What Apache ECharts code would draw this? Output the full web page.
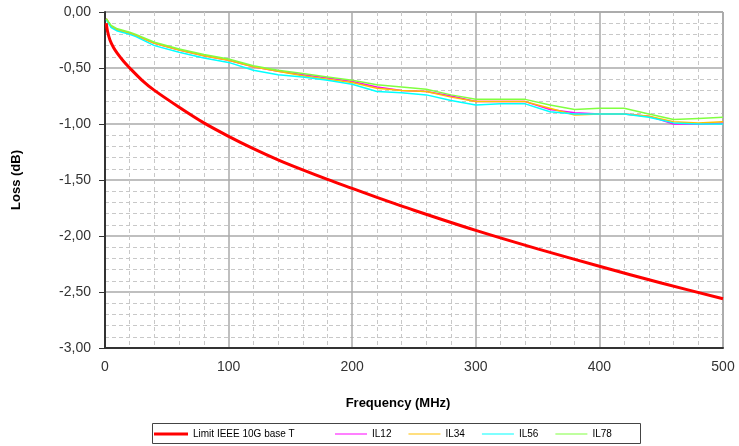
<!DOCTYPE html>
<html>
<head>
<meta charset="utf-8">
<script src="https://cdn.jsdelivr.net/npm/echarts@6/dist/echarts.min.js"></script>
<style>html,body{margin:0;padding:0;background:#fff}#c{width:739px;height:446px}</style>
</head>
<body>
<div id="c"></div>
<script>
var limitFreq = [1, 2, 4, 7, 10, 15, 20, 30, 40, 60, 80, 100, 120, 140, 160, 180, 200, 220, 250, 300, 350, 400, 450, 500];
var limitVals = [-0.10, -0.17, -0.25, -0.32, -0.37, -0.44, -0.50, -0.61, -0.70, -0.85, -0.99, -1.11, -1.22, -1.32, -1.41, -1.495, -1.575, -1.655, -1.77, -1.95, -2.115, -2.27, -2.42, -2.56];

var ilFreq = [1, 5, 10, 20, 25, 40, 60, 80, 100, 120, 140, 160, 180, 200, 220, 240, 260, 280, 300, 320, 340, 360, 380, 400, 420, 440, 460, 480, 500];
var il12 = [-0.06, -0.13, -0.16, -0.19, -0.21, -0.28, -0.34, -0.39, -0.43, -0.49, -0.53, -0.56, -0.59, -0.62, -0.67, -0.70, -0.71, -0.75, -0.80, -0.80, -0.80, -0.87, -0.90, -0.91, -0.91, -0.93, -1.00, -1.00, -0.99];
var il34 = [-0.06, -0.13, -0.16, -0.19, -0.21, -0.28, -0.34, -0.39, -0.43, -0.49, -0.53, -0.57, -0.60, -0.63, -0.68, -0.70, -0.71, -0.76, -0.80, -0.80, -0.80, -0.86, -0.92, -0.91, -0.91, -0.93, -0.98, -0.99, -0.98];
var il56 = [-0.07, -0.14, -0.17, -0.20, -0.22, -0.30, -0.36, -0.41, -0.45, -0.52, -0.56, -0.58, -0.61, -0.645, -0.71, -0.72, -0.74, -0.79, -0.83, -0.82, -0.82, -0.89, -0.91, -0.91, -0.91, -0.94, -0.99, -1.00, -1.00];
var il78 = [-0.06, -0.12, -0.15, -0.18, -0.20, -0.27, -0.33, -0.38, -0.42, -0.48, -0.52, -0.55, -0.58, -0.61, -0.65, -0.67, -0.69, -0.74, -0.78, -0.78, -0.78, -0.83, -0.87, -0.86, -0.86, -0.91, -0.96, -0.95, -0.94];

var seriesNames = ['Limit IEEE 10G base T', 'IL12', 'IL34', 'IL56', 'IL78'];
var xTicks = [0, 100, 200, 300, 400, 500];
var yTicks = [0, -0.5, -1, -1.5, -2, -2.5, -3];

function pairs(xs, ys) { return xs.map(function (x, i) { return [x, ys[i]]; }); }

var font = 'Liberation Sans, Arial, sans-serif';
var chart = echarts.init(document.getElementById('c'), null, {renderer: 'canvas'});
function mk(name, xs, ys, color, width, smooth) {
  return {
    name: name, type: 'line', data: pairs(xs, ys), symbol: 'none', smooth: smooth,
    lineStyle: {color: color, width: width}, itemStyle: {color: color}, animation: false
  };
}
var legendText = {fontFamily: font, fontSize: 10, color: '#000'};
chart.setOption({
  backgroundColor: '#fff',
  animation: false,
  title: {
    text: 'Frequency (MHz)', left: 393, top: 392, textAlign: 'center',
    textStyle: {fontFamily: font, fontSize: 13, fontWeight: 'bold', color: '#000'}
  },
  graphic: [{
    type: 'rect', left: 152, top: 423, z: 0,
    shape: {width: 488, height: 20},
    style: {fill: '#fff', stroke: '#444', lineWidth: 1}
  }],
  grid: {left: 105, right: 16, top: 12, bottom: 98, show: true, borderColor: '#666', borderWidth: 1, backgroundColor: '#fff'},
  legend: [{
    data: [seriesNames[0]], left: 150, top: 426, icon: 'rect',
    itemWidth: 34, itemHeight: 3, padding: [3, 4],
    textStyle: legendText
  }, {
    data: seriesNames.slice(1), left: 331, top: 426, icon: 'rect',
    itemWidth: 32, itemHeight: 1, itemGap: 17, padding: [3, 4],
    textStyle: legendText
  }],
  xAxis: {
    type: 'value', min: xTicks[0], max: xTicks[xTicks.length - 1], interval: 100,
    axisLine: {show: true, onZero: false, lineStyle: {color: '#333', width: 2}},
    axisTick: {show: false},
    axisLabel: {margin: 12, fontFamily: font, fontSize: 14, color: '#333'},
    splitLine: {show: true, lineStyle: {color: '#aaa', width: 1.5}},
    minorTick: {show: true, splitNumber: 5, length: 0},
    minorSplitLine: {show: true, lineStyle: {color: '#c8c8c8', width: 1, type: [4, 3]}}
  },
  yAxis: {
    type: 'value', min: yTicks[yTicks.length - 1], max: yTicks[0], interval: 0.5,
    name: 'Loss (dB)', nameLocation: 'middle', nameGap: 82,
    nameTextStyle: {fontFamily: font, fontSize: 13, fontWeight: 'bold', color: '#000'},
    axisLine: {show: true, onZero: false, lineStyle: {color: '#333', width: 2}},
    axisTick: {show: true, length: 6, lineStyle: {color: '#333', width: 1}},
    axisLabel: {margin: 14, fontFamily: font, fontSize: 14, color: '#333',
      formatter: function (v) { return v.toFixed(2).replace('.', ','); }},
    splitLine: {show: true, lineStyle: {color: '#aaa', width: 1.5}},
    minorTick: {show: true, splitNumber: 5, length: 0},
    minorSplitLine: {show: true, lineStyle: {color: '#c8c8c8', width: 1, type: [4, 3]}}
  },
  series: [
    mk(seriesNames[1], ilFreq, il12, '#ff00ff', 1.5, false),
    mk(seriesNames[2], ilFreq, il34, '#ffc000', 1.5, false),
    mk(seriesNames[3], ilFreq, il56, '#00ffff', 1.5, false),
    mk(seriesNames[4], ilFreq, il78, '#80ff40', 1.5, false),
    mk(seriesNames[0], limitFreq, limitVals, '#ff0000', 3, 0.3)
  ]
});
</script>
</body>
</html>
